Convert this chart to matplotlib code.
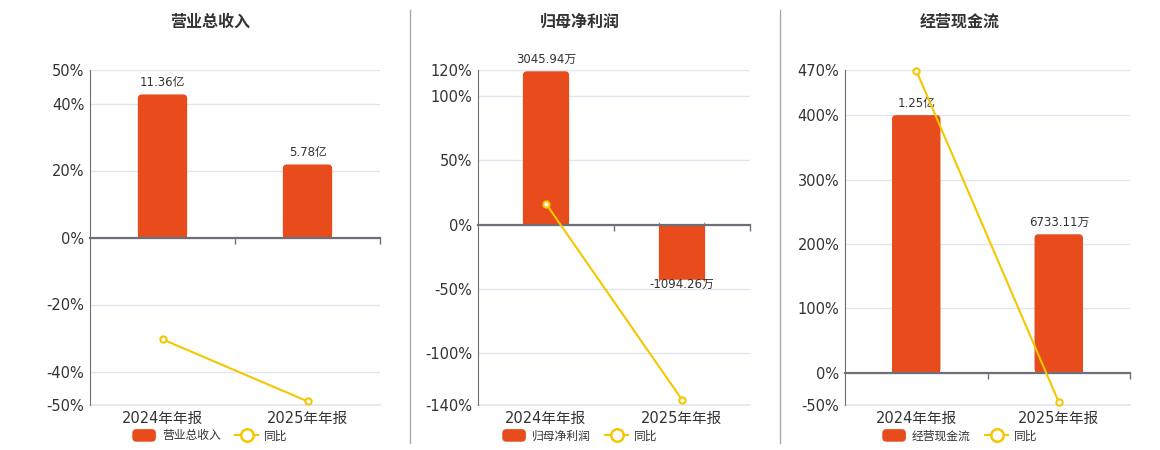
import matplotlib
matplotlib.use("Agg")
import matplotlib.pyplot as plt
from matplotlib.patches import FancyBboxPatch, Rectangle
from matplotlib.lines import Line2D
from matplotlib.legend_handler import HandlerPatch

plt.rcParams['font.family'] = ['DejaVu Sans', 'Noto Sans CJK SC']

# data
categories = ['2024年年报', '2025年年报']
titles = ['营业总收入', '归母净利润', '经营现金流']
bar_heights = [[42.7, 21.8], [119.0, -42.8], [400.0, 215.0]]  # bar heights on the % axis
bar_labels = [['11.36亿', '5.78亿'], ['3045.94万', '-1094.26万'], ['1.25亿', '6733.11万']]
yoy = [[-30.4, -48.9], [16.2, -135.9], [469.0, -45.5]]
y_limits = [(-50, 50), (-140, 120), (-50, 470)]
y_ticks = [[-50, -40, -20, 0, 20, 40, 50],
           [-140, -100, -50, 0, 50, 100, 120],
           [-50, 0, 100, 200, 300, 400, 470]]

BAR = '#E84B1C'
LINE = '#F5C700'
AXIS = '#6E7079'
GRID = '#E0E6F1'
TXT = '#333333'

W, H = 1160, 450
fig = plt.figure(figsize=(W / 100, H / 100), dpi=100)

# axes boxes in pixels: left, right, top, bottom
boxes = [(90, 380, 70, 405), (478, 750, 70, 405), (845, 1130, 70, 405)]
centers = [210, 580, 960]


def rounded_handle(legend, orig_handle, xdescent, ydescent, width, height, fontsize):
    # legend swatch with rounded corners like the bars
    return FancyBboxPatch((-xdescent, -ydescent - 1), width, height + 2,
                          boxstyle='round,pad=0,rounding_size=3')


for i in range(3):
    l, r, t, b = boxes[i]
    ax = fig.add_axes([l / W, 1 - b / H, (r - l) / W, (b - t) / H])
    lo, hi = y_limits[i]
    ax.set_xlim(-0.5, 1.5)
    ax.set_ylim(lo, hi)

    # rounded bars, corner radius about 4 px
    xper = 2.0 / (r - l)
    yper = (hi - lo) / (b - t)
    bars = ax.bar(range(2), bar_heights[i], width=0.34, color=BAR, zorder=2)
    for bar in bars:
        bar.set_visible(False)
        x0, y0 = bar.get_x(), bar.get_y()
        w, h = bar.get_width(), bar.get_height()
        ax.add_patch(FancyBboxPatch((x0, y0), w, h,
                                    boxstyle='round,pad=0,rounding_size=%f' % (4 * xper),
                                    mutation_aspect=yper / xper,
                                    fc=BAR, ec='none', zorder=2))
        # square the corners on the zero line
        ax.add_patch(Rectangle((x0, y0), w, h / 2, fc=BAR, ec='none', zorder=2))

    for k, v in enumerate(bar_heights[i]):
        if v >= 0:
            ax.annotate(bar_labels[i][k], (k, v), xytext=(0, 4), textcoords='offset points',
                        ha='center', va='bottom', fontsize=8.5, color=TXT, zorder=4)
        else:
            ax.annotate(bar_labels[i][k], (k, v), xytext=(0, 1), textcoords='offset points',
                        ha='center', va='top', fontsize=8.5, color=TXT, zorder=4)

    ax.plot(range(2), yoy[i], color=LINE, lw=1.5, marker='o', ms=4.5,
            mfc='white', mec=LINE, mew=1.5, zorder=5, clip_on=False)

    # y axis
    ax.set_yticks(y_ticks[i])
    ax.set_yticklabels(['%d%%' % v for v in y_ticks[i]])
    ax.tick_params(axis='y', length=0, labelsize=10.5, labelcolor=TXT, pad=4)
    ax.grid(axis='y', color=GRID, lw=1, zorder=0)
    ax.axhline(lo, color=GRID, lw=1.2, zorder=0, clip_on=False)
    ax.set_axisbelow(True)

    for s in ['top', 'right']:
        ax.spines[s].set_visible(False)
    ax.spines['left'].set_color(AXIS)
    ax.spines['bottom'].set_position(('data', 0))
    ax.spines['bottom'].set_color(AXIS)
    ax.spines['bottom'].set_linewidth(1.6)
    ax.spines['bottom'].set_zorder(3)
    ax.set_xticks([0.5, 1.5])
    ax.set_xticklabels([])
    ax.tick_params(axis='x', direction='out', length=4, color=AXIS, width=1)

    sec = ax.secondary_xaxis('bottom')
    sec.set_xticks([0, 1])
    sec.set_xticklabels(categories)
    sec.tick_params(length=0, labelsize=10.5, labelcolor=TXT, pad=4)
    sec.spines['bottom'].set_visible(False)

    fig.text(centers[i] / W, 1 - 22 / H, titles[i], ha='center', va='center',
             fontsize=11.5, fontweight='bold', color=TXT)

    swatch = Rectangle((0, 0), 1, 1, fc=BAR, ec='none')
    handles = [
        swatch,
        Line2D([], [], color=LINE, lw=1.5, marker='o', ms=9, mfc='white', mec=LINE, mew=1.8),
    ]
    fig.legend(handles, [titles[i], '同比'], loc='center', ncol=2,
               bbox_to_anchor=(centers[i] / W, 1 - 436 / H), frameon=False,
               fontsize=8.5, labelcolor=TXT, handlelength=2.0, handleheight=0.9,
               handletextpad=0.5, columnspacing=1.2,
               handler_map={swatch: HandlerPatch(patch_func=rounded_handle)})

# vertical dividers between panels
for xp in [410, 780]:
    fig.add_artist(Line2D([xp / W, xp / W], [1 - 10 / H, 1 - 443 / H], color='#AAAAAA', lw=1))

fig.savefig('out.png', dpi=100, facecolor='white')
